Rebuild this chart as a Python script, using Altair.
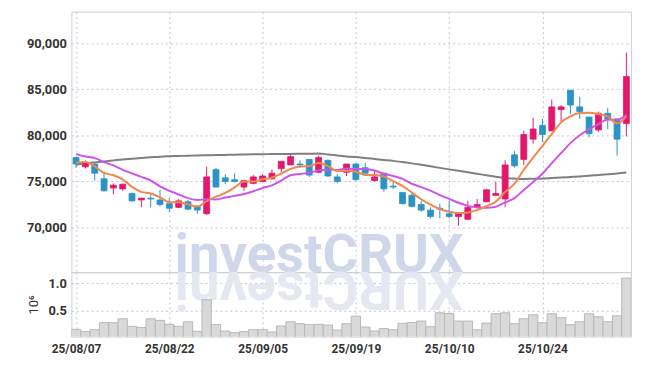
import altair as alt
import pandas as pd

# ---------------- data ----------------
opens = [77600, 76600, 76900, 75300, 74300, 74200, 73700, 73000, 73200, 73000,
         72600, 72200, 72800, 72300, 71500, 76300, 75400, 75200, 74400, 74800,
         75000, 75300, 76400, 76800, 76900, 77400, 76000, 77300, 75500, 76000,
         76900, 76500, 75100, 75900, 74500, 73800, 73500, 72500, 71900, 72100,
         71500, 71200, 70900, 72200, 72800, 73500, 73100, 77900, 77400, 79600,
         81100, 80500, 82800, 84900, 83100, 82000, 80600, 82400, 81800, 81300]
highs = [77700, 77300, 77000, 75900, 74800, 74800, 73800, 73200, 73600, 74100,
         73200, 73100, 73000, 72400, 76600, 76500, 75800, 75900, 75100, 75700,
         75800, 76300, 77200, 77900, 77300, 77400, 77800, 77400, 75800, 76900,
         77000, 77000, 76200, 75900, 75000, 73800, 73700, 72900, 72200, 72600,
         72900, 71600, 72900, 73100, 74200, 75000, 77300, 78300, 80500, 81900,
         81800, 83900, 83300, 84900, 84200, 82000, 82600, 83000, 81800, 89000]
lows = [76500, 76400, 75100, 73900, 73600, 74000, 72800, 72200, 72200, 72300,
        71700, 72100, 71900, 71500, 71400, 74400, 74700, 74900, 74000, 74700,
        74900, 75200, 76000, 76800, 76500, 75500, 75900, 75500, 74800, 75600,
        75100, 75900, 75000, 73900, 74200, 72500, 72200, 71700, 71000, 71000,
        71000, 70200, 70900, 72200, 72800, 73500, 72200, 76500, 76800, 79100,
        79300, 80500, 81500, 82300, 81800, 79800, 80400, 80700, 77800, 79900]
closes = [76900, 77000, 75900, 74000, 74600, 74700, 72900, 73200, 73100, 72500,
          72100, 72900, 72000, 71900, 75500, 74400, 75000, 75000, 75100, 75500,
          75600, 75900, 77200, 77700, 76800, 75700, 77600, 75600, 75000, 76900,
          75200, 75900, 75500, 74200, 74400, 72600, 72300, 71900, 71200, 72000,
          71200, 71600, 72200, 72500, 74100, 73700, 76800, 76700, 80100, 80700,
          80100, 83100, 83100, 83300, 82600, 80200, 82400, 81800, 79600, 86400]
volumes = [166000, 125000, 160000, 286000, 286000, 357000, 220000, 200000, 357000, 327000,
           255000, 220000, 303000, 130000, 700000, 255000, 136000, 107000, 125000, 160000,
           160000, 118000, 226000, 303000, 268000, 250000, 255000, 243000, 154000, 268000,
           404000, 208000, 136000, 179000, 160000, 273000, 290000, 315000, 214000, 464000,
           452000, 315000, 315000, 160000, 279000, 446000, 464000, 268000, 357000, 429000,
           286000, 446000, 375000, 250000, 303000, 446000, 393000, 303000, 411000, 1089000]
ma5 = [77040, 77110, 76650, 75930, 75680, 75240, 74420, 73880, 73700, 73280,
       72760, 72760, 72520, 72280, 72880, 73340, 73760, 74360, 75000, 75000,
       75240, 75420, 75860, 76380, 76640, 76660, 77000, 76680, 76140, 76160,
       76060, 75720, 75700, 75540, 75040, 74520, 73800, 73080, 72480, 72000,
       71720, 71580, 71640, 71900, 72320, 72820, 73860, 74760, 76280, 77600,
       78880, 80140, 81420, 82060, 82440, 82460, 82320, 82060, 81320, 82080]
ma10 = [77970, 77720, 77540, 77110, 76750, 76270, 75890, 75500, 75110, 74480,
        74000, 73590, 73200, 72990, 73080, 73050, 73260, 73440, 73640, 73940,
        74290, 74590, 75110, 75690, 75820, 75950, 76210, 76270, 76260, 76400,
        76360, 76360, 76190, 75840, 75600, 75290, 74760, 74390, 74010, 73520,
        73120, 72690, 72360, 72190, 72160, 72270, 72720, 73200, 74090, 74960,
        75850, 77000, 78090, 79170, 80020, 80670, 81230, 81740, 81690, 82260]
ma60 = [76830, 76970, 77080, 77180, 77290, 77400, 77480, 77560, 77630, 77700,
        77740, 77770, 77800, 77830, 77850, 77870, 77890, 77910, 77940, 77960,
        77970, 77980, 77990, 78000, 78010, 78020, 78030, 77940, 77830, 77720,
        77650, 77560, 77450, 77340, 77240, 77110, 76970, 76810, 76650, 76480,
        76320, 76160, 76000, 75840, 75680, 75520, 75390, 75320, 75280, 75300,
        75320, 75380, 75430, 75490, 75550, 75620, 75710, 75790, 75860, 75970]
tick_positions = [0, 10, 20, 30, 40, 50]
tick_labels = ["25/08/07", "25/08/22", "25/09/05", "25/09/19", "25/10/10", "25/10/24"]
price_ticks = [70000, 75000, 80000, 85000, 90000]
volume_ticks = [0.5, 1.0]
WATERMARK = "investCRUX"

# ---------------- tables ----------------
n = len(closes)
df = pd.DataFrame({"idx": list(range(n)), "open": opens, "high": highs,
                   "low": lows, "close": closes, "volume": volumes,
                   "ma5": ma5, "ma10": ma10, "ma60": ma60})

UP, DOWN = "#e3186d", "#2c93c6"
W, H_PRICE, H_VOL = 565, 263, 65
X_DOM = [-0.5, n - 0.5]
PRICE_DOM = [65160, 93440]
VOL_DOM = [0.036, 1.196]

label_expr = "[" + ",".join("'%s'" % s for s in tick_labels) + "][round(datum.value/10)]"
dir_color = alt.condition("datum.close >= datum.open", alt.value(UP), alt.value(DOWN))


def px(field, labels=False):
    ax = alt.Axis(values=tick_positions, grid=True, labels=labels, title=None,
                  labelExpr=label_expr, labelPadding=7, labelFontSize=12)
    return alt.X(field, scale=alt.Scale(domain=X_DOM, nice=False, zero=False), axis=ax, title=None)


def py(field):
    return alt.Y(field, scale=alt.Scale(domain=PRICE_DOM, nice=False, zero=False),
                 axis=alt.Axis(values=price_ticks, labelExpr="format(datum.value, ',')",
                               grid=True, title=None), title=None)


wm = pd.DataFrame({"t": [WATERMARK], "r": [WATERMARK[::-1]]})

watermark = alt.Chart(wm).mark_text(
    font="Roboto", fontSize=55, fontWeight="bold", color="#d1d7ea",
    align="center", baseline="alphabetic"
).encode(text="t:N", x=alt.value(250), y=alt.value(H_PRICE))

base = alt.Chart(df).transform_calculate(
    x0="datum.idx - 0.32", x1="datum.idx + 0.32")

wicks = base.mark_rule(strokeWidth=1).encode(
    x=px("idx:Q"), y=py("low:Q"), y2="high:Q", color=dir_color)
bodies = base.mark_rect(strokeWidth=0.8).encode(
    x=px("x0:Q"), x2="x1:Q", y=py("open:Q"), y2="close:Q",
    color=dir_color, stroke=dir_color)


def ma_line(field, col):
    return alt.Chart(df).mark_line(interpolate="monotone", strokeWidth=2, color=col).encode(
        x=px("idx:Q"), y=py(field + ":Q"))


price = alt.layer(
    watermark, ma_line("ma60", "#7f7f7f"), wicks, bodies,
    ma_line("ma10", "#cb55ec"), ma_line("ma5", "#f0874c")
).properties(width=W, height=H_PRICE)

reflection = alt.Chart(wm).mark_text(
    font="Roboto", fontSize=55, fontWeight="bold", color="#e6e8f1",
    align="center", baseline="alphabetic", angle=180
).encode(text="r:N", x=alt.value(250), y=alt.value(0))

vbars = alt.Chart(df).transform_calculate(
    x0="datum.idx - 0.5", x1="datum.idx + 0.5", vol="datum.volume / 1000000"
).mark_rect(fill="#d9d9d9", stroke="#b8b8b8", strokeWidth=1, clip=True).encode(
    x=px("x0:Q", labels=True), x2="x1:Q",
    y=alt.Y("vol:Q", scale=alt.Scale(domain=VOL_DOM, nice=False, zero=False),
            axis=alt.Axis(values=volume_ticks, labelExpr="format(datum.value, '.1f')",
                          grid=True, title="10⁶", titlePadding=8)),
    y2=alt.datum(0),
)

volume = alt.layer(reflection, vbars).properties(width=W, height=H_VOL)

chart = alt.vconcat(price, volume, spacing=0, bounds="flush").properties(
    padding={"left": 18, "top": 1, "right": 5, "bottom": 5}
).configure_view(stroke="#cfcfcf", strokeWidth=1).configure_axis(
    gridColor="#c3c7db", gridDash=[2, 3], gridWidth=1,
    labelFont="Roboto", labelFontSize=13, labelColor="#333333", labelFontWeight="bold",
    domain=False, ticks=False, labelPadding=5,
    titleFont="Roboto", titleFontSize=13, titleColor="#333333", titleFontWeight="normal",
)

chart.save("out.html", embed_options={"renderer": "svg", "actions": False})
